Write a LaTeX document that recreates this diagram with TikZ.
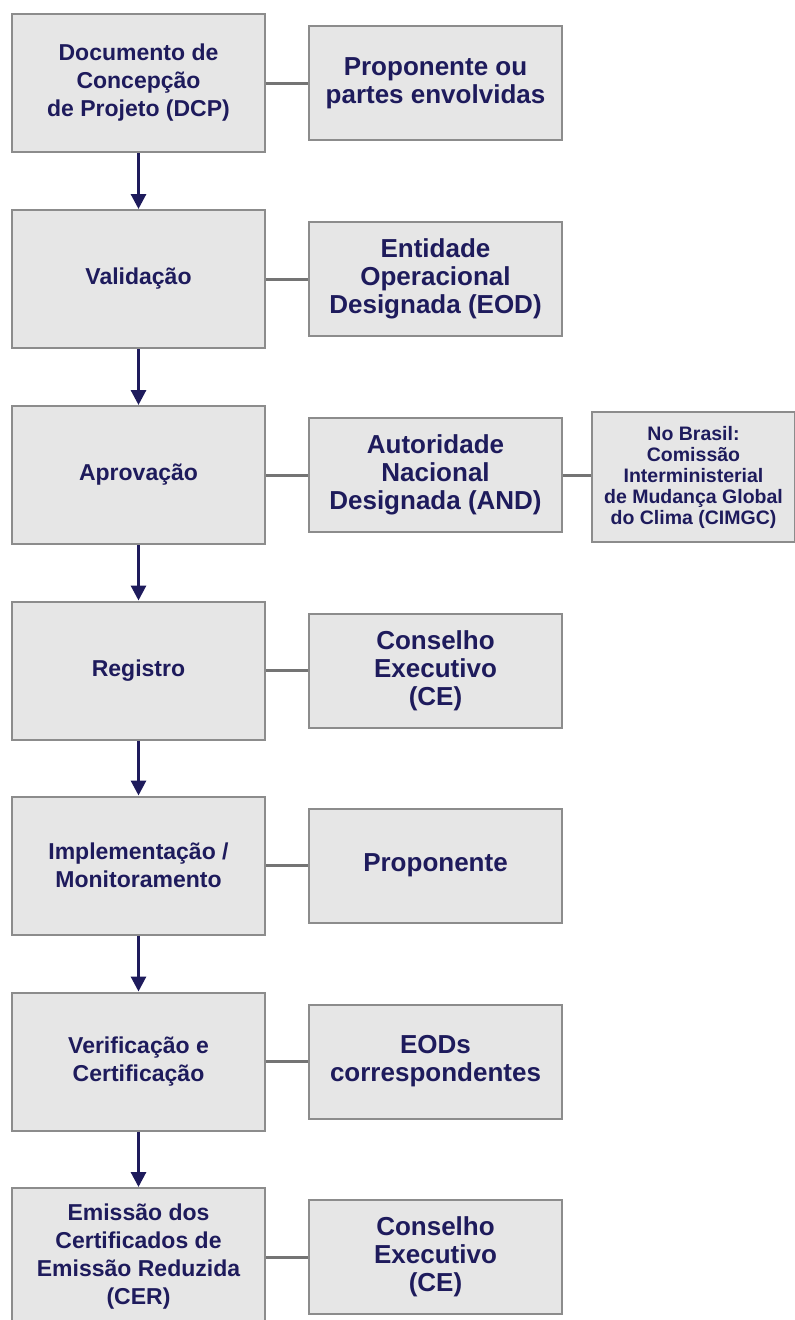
\documentclass[tikz,border=0pt]{standalone}
\usepackage{fontspec}
\setmainfont{Liberation Sans}
\usetikzlibrary{arrows.meta}
\definecolor{navy}{HTML}{1E1B5C}
\definecolor{boxfill}{HTML}{E6E6E6}
\definecolor{boxline}{HTML}{8C8C8C}
\definecolor{linkgray}{HTML}{747474}
\tikzset{etapa/.style={draw=boxline, line width=2pt, fill=boxfill, text=navy,
    align=center, inner sep=0pt, minimum width=253pt, minimum height=138pt,
    font=\fontsize{23}{28}\selectfont\bfseries}}
\tikzset{ator/.style={etapa, minimum height=114pt,
    font=\fontsize{26}{28}\selectfont\bfseries}}
\tikzset{nota/.style={etapa, minimum width=203pt, minimum height=130pt,
    font=\fontsize{19.5}{21}\selectfont\bfseries}}
\tikzset{seta/.style={navy, line width=3pt, -{Triangle[width=15pt,length=15pt]}}}
\tikzset{liga/.style={linkgray, line width=3pt}}

\begin{document}
\begin{tikzpicture}[x=1pt,y=-1pt]
  \useasboundingbox (0,0) rectangle (795,1320);
  \clip (0,0) rectangle (795,1320);

  % etapas do ciclo
  \node[etapa] (dcp) at (138.5,83) {Documento de\\Concepção\\de Projeto (DCP)};
  \node[etapa] (val) at (138.5,279) {Validação};
  \node[etapa] (apr) at (138.5,475) {Aprovação};
  \node[etapa] (reg) at (138.5,670.5) {Registro};
  \node[etapa] (imp) at (138.5,865.5) {Implementação /\\Monitoramento};
  \node[etapa] (ver) at (138.5,1061.5) {Verificação e\\Certificação};
  \node[etapa] (emi) at (138.5,1257) {Emissão dos\\Certificados de\\Emissão Reduzida\\(CER)};

  % responsaveis
  \node[ator] (prop) at (435.5,83) {Proponente ou\\partes envolvidas};
  \node[ator] (eod) at (435.5,279) {Entidade\\Operacional\\Designada (EOD)};
  \node[ator] (and) at (435.5,475) {Autoridade\\Nacional\\Designada (AND)};
  \node[ator] (ce) at (435.5,670.5) {Conselho\\Executivo\\(CE)};
  \node[ator] (pro) at (435.5,865.5) {Proponente};
  \node[ator] (eods) at (435.5,1061.5) {EODs\\correspondentes};
  \node[ator] (ce2) at (435.5,1257) {Conselho\\Executivo\\(CE)};

  \node[nota] (cimgc) at (693.5,477) {No Brasil:\\Comissão\\Interministerial\\de Mudança Global\\do Clima (CIMGC)};

  \foreach \a/\b in {dcp/val, val/apr, apr/reg, reg/imp, imp/ver, ver/emi}{
    \draw[seta] (\a) -- (\b);
  };
  \foreach \a/\b in {dcp/prop, val/eod, apr/and, reg/ce, imp/pro, ver/eods, emi/ce2}{
    \draw[liga] (\a) -- (\b);
  };
  \draw[liga] (and.east) -- (and.east -| cimgc.west);
\end{tikzpicture}
\end{document}
